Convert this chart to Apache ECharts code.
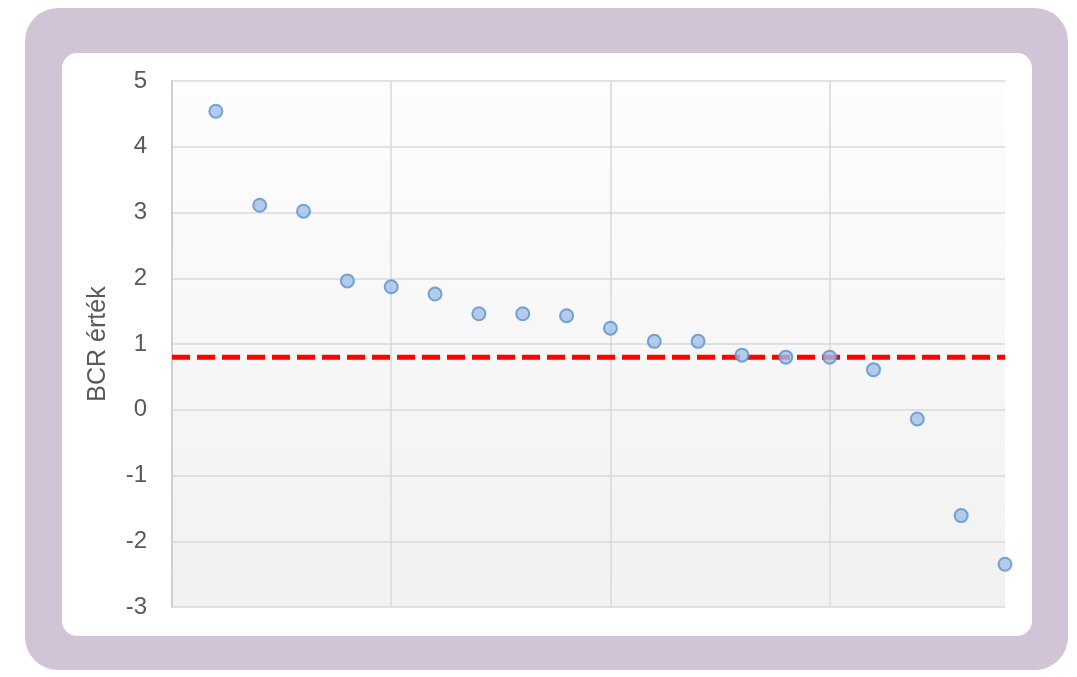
<!DOCTYPE html>
<html><head><meta charset="utf-8">
<script src="https://cdn.jsdelivr.net/npm/echarts@6/dist/echarts.min.js"></script>
<style>html,body{margin:0;padding:0;background:#fff;}#c{width:1077px;height:677px;}</style>
</head><body><div id="c"></div>
<script>
var xPositions = [1,2,3,4,5,6,7,8,9,10,11,12,13,14,15,16,17,18,19];
var bcrValues = [4.54,3.11,3.02,1.96,1.87,1.76,1.46,1.46,1.43,1.24,1.04,1.04,0.83,0.80,0.80,0.61,-0.14,-1.61,-2.35];
var thresholdX = [0,19];
var thresholdY = [0.8,0.8];
var yTicks = {min:-3,max:5,interval:1};
var yName = 'BCR érték';

var chart = echarts.init(document.getElementById('c'));
chart.setOption({
  animation:false,
  backgroundColor:'#fff',
  graphic:[
    {type:'rect',z:-10,shape:{x:25,y:8,width:1043,height:662,r:33},style:{fill:'#d1c4d6'}},
    {type:'rect',z:-9,shape:{x:62,y:53,width:970,height:583,r:15},style:{fill:'#ffffff'}}
  ],
  grid:{left:172,right:72,top:81,bottom:70,show:true,borderWidth:0,
    backgroundColor:new echarts.graphic.LinearGradient(0,0,0,1,[{offset:0,color:'#fdfdfd'},{offset:1,color:'#f1f1f1'}])},
  xAxis:{type:'value',min:0,max:19,interval:5,
    axisLine:{show:false},axisTick:{show:false},axisLabel:{show:false},
    splitLine:{show:true,showMinLine:false,showMaxLine:false,lineStyle:{color:'#d9d9d9',width:1.5}}},
  yAxis:{type:'value',min:yTicks.min,max:yTicks.max,interval:yTicks.interval,
    name:yName,nameLocation:'middle',nameGap:61,nameRotate:90,
    nameTextStyle:{fontFamily:'Liberation Sans, Arial',fontSize:25,color:'#595959'},
    axisLine:{show:true,lineStyle:{color:'#d0d0d0',width:2}},axisTick:{show:false},
    axisLabel:{fontFamily:'Liberation Sans, Arial',fontSize:24,color:'#595959',margin:25},
    splitLine:{show:true,lineStyle:{color:'#d9d9d9',width:1.5}}},
  series:[
    {type:'line',data:thresholdX.map(function(x,i){return [x,thresholdY[i]];}),
      showSymbol:false,symbol:'none',z:3,
      lineStyle:{color:'#ff0000',width:5,type:[18,7]}},
    {type:'scatter',data:xPositions.map(function(x,i){return [x,bcrValues[i]];}),
      symbol:'circle',symbolSize:13,z:4,
      itemStyle:{color:'#a3c0e6',borderColor:'#5692d0',borderWidth:2}}
  ]
});
</script></body></html>
